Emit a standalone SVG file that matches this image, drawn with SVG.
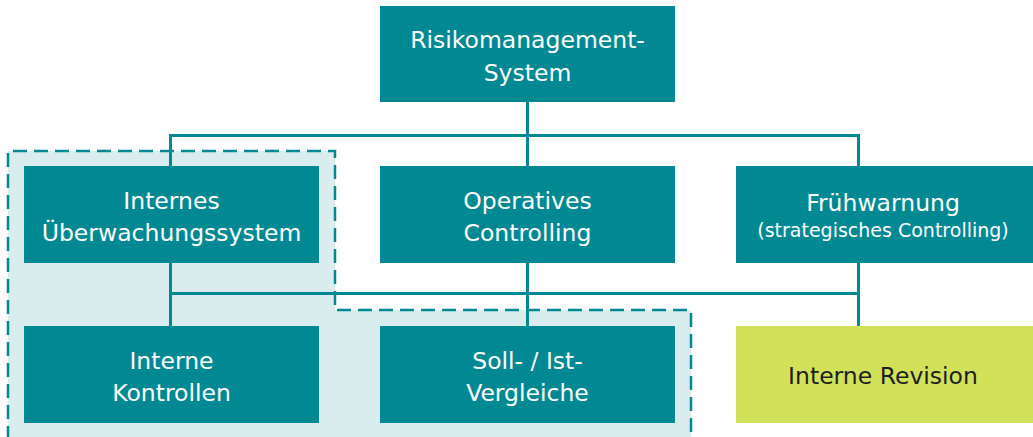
<svg xmlns="http://www.w3.org/2000/svg" width="1033" height="437" viewBox="0 0 1033 437">
<style>
.box{fill:#008993}
.t{font-family:"DejaVu Sans",sans-serif;font-size:23.5px;fill:#ffffff;text-anchor:middle}
.s{font-size:19px}
.dark{fill:#1e1e1e}
.ln{stroke:#008993;stroke-width:3;fill:none}
</style>
<rect width="1033" height="437" fill="#ffffff"/>
<g id="group-ius">
<path d="M8,151 H335 V310 H691 V440 H8 Z" fill="#d9ecee"/>
<path d="M8,440 V151 H335 V310 H691 V440" fill="none" stroke="#008993" stroke-width="2.5" stroke-dasharray="14 7"/>
</g>
<g id="connectors" class="ln">
<path d="M527.5,102 V166 M170.5,166 V135.5 H858.5 V166"/>
<path d="M170.5,263 V326 M527.5,263 V326 M858.5,263 V326 M170.5,293.5 H858.5"/>
</g>
<g id="risikomanagement">
<rect class="box" x="380" y="6" width="295" height="96"/>
<text class="t" x="527.5" y="48">Risikomanagement-</text>
<text class="t" x="527.5" y="81">System</text>
</g>
<g id="ius">
<rect class="box" x="24" y="166" width="295" height="97"/>
<text class="t" x="171.5" y="209">Internes</text>
<text class="t" x="171.5" y="241">Überwachungssystem</text>
</g>
<g id="operatives">
<rect class="box" x="380" y="166" width="295" height="97"/>
<text class="t" x="527.5" y="209">Operatives</text>
<text class="t" x="527.5" y="241">Controlling</text>
</g>
<g id="fruehwarnung">
<rect class="box" x="736" y="166" width="297" height="97"/>
<text class="t" x="883" y="211">Frühwarnung</text>
<text class="t s" x="883" y="237">(strategisches Controlling)</text>
</g>
<g id="kontrollen">
<rect class="box" x="24" y="326" width="295" height="97"/>
<text class="t" x="171.5" y="369">Interne</text>
<text class="t" x="171.5" y="401">Kontrollen</text>
</g>
<g id="soll-ist">
<rect class="box" x="380" y="326" width="295" height="97"/>
<text class="t" x="527.5" y="369">Soll- / Ist-</text>
<text class="t" x="527.5" y="401">Vergleiche</text>
</g>
<g id="revision">
<rect x="736" y="326" width="297" height="97" fill="#d2e15a"/>
<text class="t dark" x="883" y="384">Interne Revision</text>
</g>
</svg>
